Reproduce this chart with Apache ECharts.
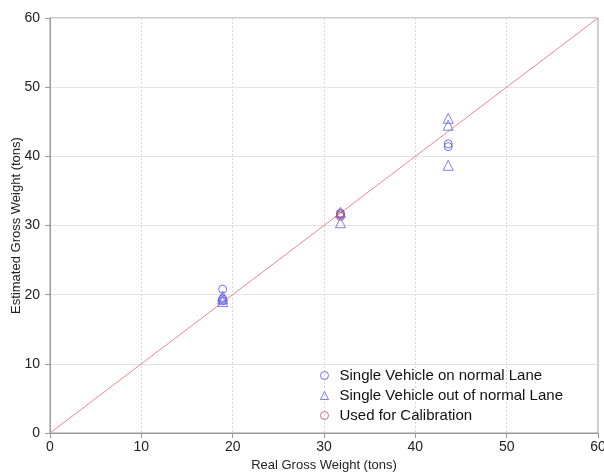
<!DOCTYPE html>
<html><head><meta charset="utf-8">
<script src="https://cdn.jsdelivr.net/npm/echarts@6/dist/echarts.min.js"></script>
<style>html,body{margin:0;padding:0;background:#fff}#c{width:604px;height:472px}</style>
</head><body><div id="c"></div>
<script>
const xTicks = [0, 10, 20, 30, 40, 50, 60];
const yTicks = [0, 10, 20, 30, 40, 50, 60];
const onLane = [[18.9, 20.8], [18.9, 19.4], [18.9, 19.1], [31.8, 31.5], [31.8, 31.8], [43.6, 41.8], [43.6, 41.4]];
const outLane = [[18.9, 19.8], [18.9, 19.4], [18.9, 19.0], [31.8, 31.9], [31.8, 30.4], [43.6, 45.5], [43.6, 44.5], [43.6, 38.7]];
const calibration = [[31.8, 31.7], [31.8, 31.3]];
const diagonal = [[0, 0], [60, 60]];
const names = ['Single Vehicle on normal Lane', 'Single Vehicle out of normal Lane', 'Used for Calibration'];

const chart = echarts.init(document.getElementById('c'));
const font = 'Liberation Sans, Arial, sans-serif';
const axisCommon = {
  min: 0, max: 60, interval: 10,
  axisLine: { onZero: false, lineStyle: { color: '#999', width: 1 } },
  axisTick: { show: true, length: 5, lineStyle: { color: '#999' } },
  axisLabel: { color: '#222', fontSize: 14, fontFamily: font },
  nameTextStyle: { color: '#222', fontSize: 13, fontFamily: font },
  nameLocation: 'middle',
  nameMoveOverlap: false
};
chart.setOption({
  animation: false,
  backgroundColor: '#fff',
  grid: { left: 50, right: 6, top: 18, bottom: 39, outerBoundsMode: 'none', containLabel: false,
    show: true, borderColor: '#999', borderWidth: 1 },
  xAxis: Object.assign({}, axisCommon, { type: 'value', name: 'Real Gross Weight (tons)', nameGap: 26,
    splitLine: { show: true, lineStyle: { color: '#d8d8d8', type: [2, 2] } },
    axisLabel: Object.assign({}, axisCommon.axisLabel, { margin: 7, formatter: v => xTicks.includes(v) ? String(v) : '' }) }),
  yAxis: Object.assign({}, axisCommon, { type: 'value', name: 'Estimated Gross Weight (tons)', nameGap: 27,
    splitLine: { show: true, lineStyle: { color: '#e4e4e4', type: 'solid' } },
    axisLabel: Object.assign({}, axisCommon.axisLabel, { margin: 10, formatter: v => yTicks.includes(v) ? String(v) : '' }) }),
  legend: {
    data: [
      { name: names[0], icon: 'circle', itemStyle: { borderWidth: 1 } },
      { name: names[1], icon: 'triangle', itemStyle: { borderWidth: 1 } },
      { name: names[2], icon: 'circle', itemStyle: { borderWidth: 1 } }
    ],
    orient: 'vertical', left: 315, top: 363, itemGap: 5,
    itemWidth: 8, itemHeight: 8,
    textStyle: { fontSize: 15, color: '#111', fontFamily: font, padding: [0, 0, 0, 6] }
  },
  series: [
    { type: 'line', data: diagonal, symbol: 'none', silent: true,
      lineStyle: { color: '#ee8888', width: 1 }, z: 1 },
    { name: names[0], type: 'scatter', data: onLane, symbol: 'circle', symbolSize: 8,
      itemStyle: { color: 'transparent', borderColor: '#5050e8', borderWidth: 1 }, z: 3 },
    { name: names[1], type: 'scatter', data: outLane, symbol: 'triangle', symbolSize: 10,
      itemStyle: { color: 'transparent', borderColor: '#6060e8', borderWidth: 1 }, z: 3 },
    { name: names[2], type: 'scatter', data: calibration, symbol: 'circle', symbolSize: 8,
      itemStyle: { color: 'transparent', borderColor: '#c05050', borderWidth: 1 }, z: 4 }
  ]
});
</script></body></html>
